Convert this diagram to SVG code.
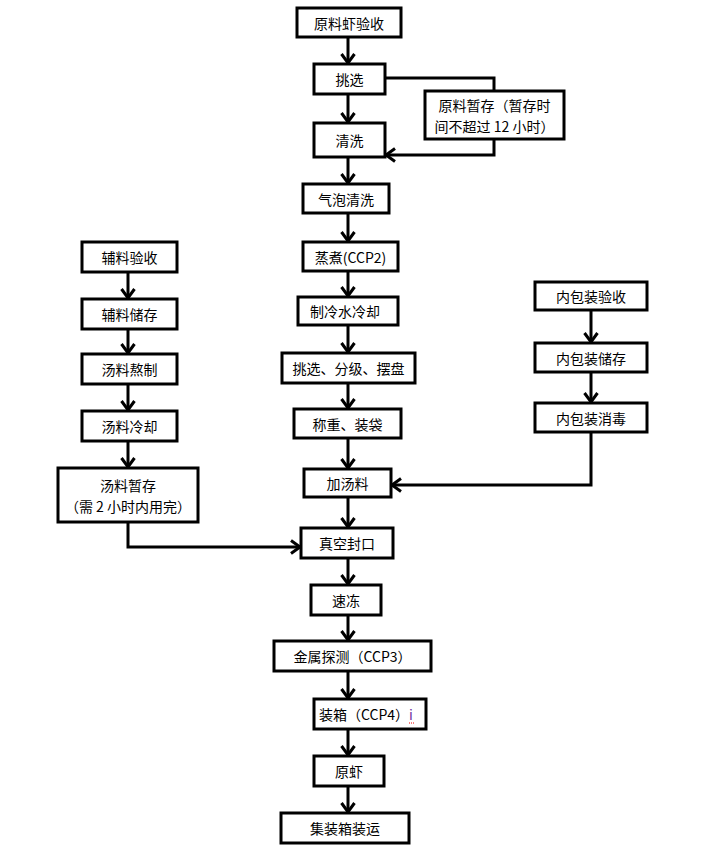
<svg xmlns="http://www.w3.org/2000/svg" width="706" height="848" viewBox="0 0 706 848">
<defs>
<style>
.box{fill:#fff;stroke:#000;stroke-width:3}
.t{font-family:"Noto Sans CJK SC","Liberation Sans",sans-serif;font-size:14px;fill:#000;text-anchor:middle;dominant-baseline:central}
.c{fill:none;stroke:#000;stroke-width:3}
</style>
<marker id="ah" markerUnits="userSpaceOnUse" markerWidth="16" markerHeight="16" refX="11" refY="8" orient="auto" viewBox="0 0 16 16">
<path d="M2,1.5 L11,8 L2,14.5" fill="none" stroke="#000" stroke-width="3"/>
</marker>
</defs>
<rect width="706" height="848" fill="#fff"/>
<g id="connectors">
<path class="c" d="M348,37 V63" marker-end="url(#ah)"/>
<path class="c" d="M348,94 V122" marker-end="url(#ah)"/>
<path class="c" d="M348,157 V183" marker-end="url(#ah)"/>
<path class="c" d="M348,213 V241" marker-end="url(#ah)"/>
<path class="c" d="M348,271 V296" marker-end="url(#ah)"/>
<path class="c" d="M348,325 V352" marker-end="url(#ah)"/>
<path class="c" d="M348,383 V408" marker-end="url(#ah)"/>
<path class="c" d="M348,438 V468" marker-end="url(#ah)"/>
<path class="c" d="M348,497 V527" marker-end="url(#ah)"/>
<path class="c" d="M348,558 V584" marker-end="url(#ah)"/>
<path class="c" d="M348,615 V640" marker-end="url(#ah)"/>
<path class="c" d="M348,671 V698" marker-end="url(#ah)"/>
<path class="c" d="M348,729 V755" marker-end="url(#ah)"/>
<path class="c" d="M348,786 V812" marker-end="url(#ah)"/>
<path class="c" d="M385,78 H494 V155 H386" marker-end="url(#ah)"/>
<path class="c" d="M128,272 V298" marker-end="url(#ah)"/>
<path class="c" d="M128,329 V353" marker-end="url(#ah)"/>
<path class="c" d="M128,384 V410" marker-end="url(#ah)"/>
<path class="c" d="M128,441 V467" marker-end="url(#ah)"/>
<path class="c" d="M128,522 V547 H300" marker-end="url(#ah)"/>
<path class="c" d="M591,310 V342" marker-end="url(#ah)"/>
<path class="c" d="M591,372 V402" marker-end="url(#ah)"/>
<path class="c" d="M591,432 V485 H392" marker-end="url(#ah)"/>
</g>
<g id="n1"><rect class="box" x="297" y="8" width="104" height="29"/><text class="t" x="349" y="22.5">原料虾验收</text></g>
<g id="n2"><rect class="box" x="314" y="64" width="71" height="30"/><text class="t" x="349.5" y="79">挑选</text></g>
<g id="n3"><rect class="box" x="425" y="91" width="139" height="48"/><text class="t" x="494.5" y="105">原料暂存（暂存时</text><text class="t" x="494.5" y="126">间不超过 12 小时）</text></g>
<g id="n4"><rect class="box" x="314" y="123" width="71" height="34"/><text class="t" x="349.5" y="140">清洗</text></g>
<g id="n5"><rect class="box" x="303" y="184" width="86" height="29"/><text class="t" x="346" y="198.5">气泡清洗</text></g>
<g id="n6"><rect class="box" x="303" y="242" width="95" height="29"/><text class="t" x="350.5" y="256.5">蒸煮(CCP2)</text></g>
<g id="n7"><rect class="box" x="298" y="297" width="100" height="28"/><text class="t" x="345" y="311">制冷水冷却</text></g>
<g id="n8"><rect class="box" x="282" y="353" width="133" height="30"/><text class="t" x="348.5" y="368">挑选、分级、摆盘</text></g>
<g id="n9"><rect class="box" x="294" y="409" width="107" height="29"/><text class="t" x="347.5" y="423.5">称重、装袋</text></g>
<g id="n10"><rect class="box" x="82" y="242" width="95" height="30"/><text class="t" x="129.5" y="257">辅料验收</text></g>
<g id="n11"><rect class="box" x="82" y="299" width="95" height="30"/><text class="t" x="129.5" y="314">辅料储存</text></g>
<g id="n12"><rect class="box" x="82" y="354" width="95" height="30"/><text class="t" x="129.5" y="369">汤料熬制</text></g>
<g id="n13"><rect class="box" x="82" y="411" width="95" height="30"/><text class="t" x="129.5" y="426">汤料冷却</text></g>
<g id="n14"><rect class="box" x="58" y="468" width="140" height="54"/><text class="t" x="128" y="485">汤料暂存</text><text class="t" x="128" y="506">（需 2 小时内用完）</text></g>
<g id="n15"><rect class="box" x="535" y="282" width="112" height="28"/><text class="t" x="591" y="296">内包装验收</text></g>
<g id="n16"><rect class="box" x="535" y="343" width="112" height="29"/><text class="t" x="591" y="357.5">内包装储存</text></g>
<g id="n17"><rect class="box" x="535" y="403" width="112" height="29"/><text class="t" x="591" y="417.5">内包装消毒</text></g>
<g id="n18"><rect class="box" x="304" y="469" width="87" height="28"/><text class="t" x="347.5" y="483">加汤料</text></g>
<g id="n19"><rect class="box" x="301" y="528" width="92" height="30"/><text class="t" x="347" y="543">真空封口</text></g>
<g id="n20"><rect class="box" x="311" y="585" width="70" height="30"/><text class="t" x="346" y="600">速冻</text></g>
<g id="n21"><rect class="box" x="274" y="641" width="157" height="30"/><text class="t" x="352.5" y="656">金属探测（CCP3）</text></g>
<g id="n22"><rect class="box" x="314" y="699" width="112" height="30"/><text class="t" x="366" y="714">装箱（CCP4）<tspan fill="#7030A0">i</tspan></text><path d="M409,723 H415" stroke="#e00" stroke-width="1" stroke-dasharray="1,1"/></g>
<g id="n23"><rect class="box" x="314" y="756" width="70" height="30"/><text class="t" x="349" y="771">原虾</text></g>
<g id="n24"><rect class="box" x="281" y="813" width="128" height="30"/><text class="t" x="345" y="828">集装箱装运</text></g>
</svg>
